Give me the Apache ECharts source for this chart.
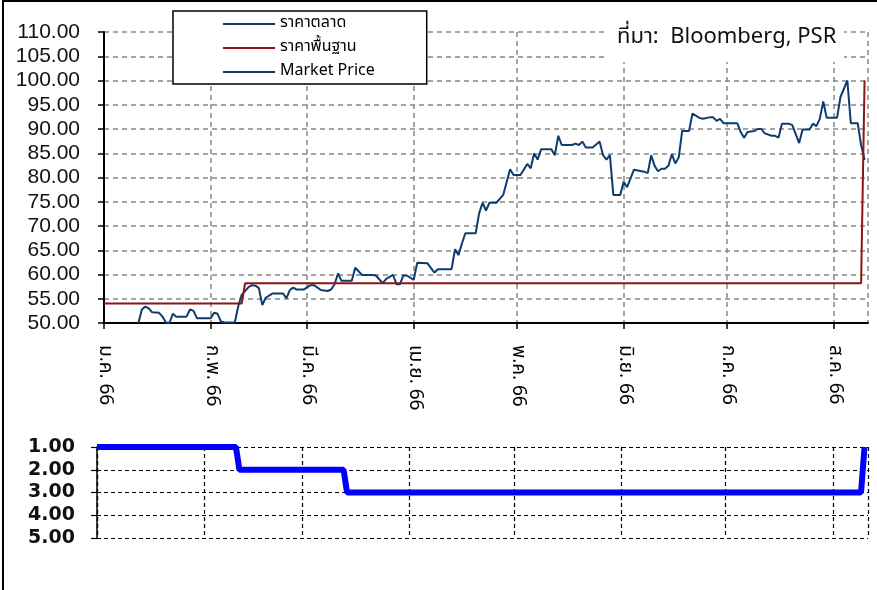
<!DOCTYPE html>
<html>
<head>
<meta charset="utf-8">
<script src="https://cdn.jsdelivr.net/npm/echarts@6/dist/echarts.min.js"></script>
<style>
  html, body { margin: 0; padding: 0; background: #fff; }
  #main { width: 877px; height: 590px; }
</style>
</head>
<body>
<div id="main"></div>
<script>
// time range of both panels
var xMin = '2023-01-01', xMax = '2023-08-11';
var monthLabels = ['ม.ค. 66', 'ก.พ. 66', 'มี.ค. 66', 'เม.ย. 66', 'พ.ค. 66', 'มิ.ย. 66', 'ก.ค. 66', 'ส.ค. 66'];
var seriesNames = ['ราคาตลาด', 'ราคาพื้นฐาน', 'Market Price'];
var sourceText = 'ที่มา:  Bloomberg, PSR';

// market price
var priceDates = [
  '2023-01-11','2023-01-12','2023-01-13','2023-01-14','2023-01-15','2023-01-17','2023-01-18','2023-01-19','2023-01-20','2023-01-21',
  '2023-01-22','2023-01-25','2023-01-26','2023-01-27','2023-01-28','2023-02-01','2023-02-02','2023-02-03','2023-02-04','2023-02-05',
  '2023-02-08','2023-02-09','2023-02-10','2023-02-12','2023-02-13','2023-02-14','2023-02-15','2023-02-16','2023-02-17','2023-02-19',
  '2023-02-22','2023-02-23','2023-02-24','2023-02-25','2023-02-26','2023-02-28','2023-03-02','2023-03-03','2023-03-05','2023-03-07',
  '2023-03-08','2023-03-09','2023-03-10','2023-03-11','2023-03-14','2023-03-15','2023-03-17','2023-03-20','2023-03-21','2023-03-23',
  '2023-03-24','2023-03-26','2023-03-27','2023-03-28','2023-03-29','2023-03-30','2023-04-01','2023-04-02','2023-04-05','2023-04-07',
  '2023-04-08','2023-04-12','2023-04-13','2023-04-14','2023-04-15','2023-04-16','2023-04-19','2023-04-20','2023-04-21','2023-04-22',
  '2023-04-23','2023-04-25','2023-04-27','2023-04-29','2023-04-30','2023-05-02','2023-05-04','2023-05-05','2023-05-06','2023-05-07',
  '2023-05-08','2023-05-11','2023-05-12','2023-05-13','2023-05-14','2023-05-17','2023-05-18','2023-05-19','2023-05-20','2023-05-21',
  '2023-05-23','2023-05-25','2023-05-26','2023-05-27','2023-05-28','2023-05-29','2023-05-31','2023-06-01','2023-06-02','2023-06-04',
  '2023-06-07','2023-06-08','2023-06-09','2023-06-10','2023-06-11','2023-06-12','2023-06-13','2023-06-14','2023-06-15','2023-06-16',
  '2023-06-17','2023-06-18','2023-06-20','2023-06-21','2023-06-23','2023-06-24','2023-06-26','2023-06-27','2023-06-28','2023-06-29',
  '2023-06-30','2023-07-04','2023-07-05','2023-07-06','2023-07-07','2023-07-09','2023-07-10','2023-07-11','2023-07-12','2023-07-14',
  '2023-07-15','2023-07-16','2023-07-17','2023-07-19','2023-07-20','2023-07-22','2023-07-23','2023-07-25','2023-07-26','2023-07-27',
  '2023-07-28','2023-07-29','2023-07-30','2023-08-02','2023-08-03','2023-08-05','2023-08-06','2023-08-08','2023-08-09','2023-08-10'
];
var priceValues = [
  50.0, 52.8, 53.4, 53.0, 52.2, 52.1, 51.3, 50.1, 50.0, 51.9,
  51.3, 51.3, 52.8, 52.5, 51.0, 51.0, 52.1, 51.9, 50.3, 50.1,
  50.1, 53.4, 55.8, 57.4, 57.8, 57.7, 57.2, 53.7, 55.2, 56.1,
  56.1, 55.1, 56.8, 57.3, 56.9, 56.9, 57.8, 57.8, 56.8, 56.6,
  56.9, 58.0, 60.2, 58.7, 58.7, 61.4, 59.9, 59.9, 59.8, 58.2,
  59.1, 59.9, 58.0, 58.0, 59.8, 59.8, 58.9, 62.4, 62.3, 60.4,
  61.1, 61.1, 65.2, 64.0, 66.4, 68.5, 68.5, 72.6, 74.8, 73.2,
  74.8, 74.8, 76.4, 81.7, 80.5, 80.5, 82.8, 81.9, 85.0, 83.7,
  85.8, 85.8, 84.6, 88.6, 86.7, 86.7, 87.0, 86.7, 87.4, 86.2,
  86.2, 87.4, 84.6, 83.7, 84.6, 76.4, 76.4, 79.1, 78.0, 81.6,
  81.2, 80.9, 84.6, 82.4, 81.3, 81.8, 81.8, 82.4, 84.8, 82.9,
  84.1, 89.6, 89.6, 93.2, 92.3, 92.1, 92.4, 92.4, 91.7, 92.1,
  91.2, 91.2, 89.4, 88.2, 89.4, 89.6, 90.0, 90.0, 89.1, 88.6,
  88.6, 88.2, 91.1, 91.1, 90.8, 87.1, 89.9, 89.9, 91.1, 90.6,
  92.1, 95.7, 92.3, 92.3, 96.6, 100.0, 91.2, 91.2, 86.7, 83.6
];

// base (fundamental) price
var baseDates = ['2023-01-01', '2023-02-10', '2023-02-11', '2023-08-09', '2023-08-10'];
var baseValues = [54.0, 54.0, 58.2, 58.2, 100.0];

// rank in lower panel
var rankDates = ['2023-01-01', '2023-02-10', '2023-02-11', '2023-03-13', '2023-03-14', '2023-08-09', '2023-08-10'];
var rankValues = [1, 1, 2, 2, 3, 3, 1];

function pairs(dates, values) {
  return dates.map(function (d, i) { return [d, values[i]]; });
}

var thaiFont = 'Tahoma, "Noto Sans Thai", "Noto Sans", "DejaVu Sans", sans-serif';
var numFont = '"Liberation Sans", Arial, sans-serif';
var blue = '#0D3D6E', red = '#8E1414';

var myChart = echarts.init(document.getElementById('main'));

var option = {
  animation: false,
  backgroundColor: '#fff',
  textStyle: { fontFamily: thaiFont },
  grid: [
    { left: 104, top: 32, width: 764, height: 291 },
    { left: 97, top: 447, width: 771, height: 91 }
  ],
  legend: {
    data: seriesNames,
    orient: 'vertical',
    left: 173, top: 11,
    padding: [5, 52, 4, 50],
    backgroundColor: '#fff',
    borderColor: '#000', borderWidth: 1.5,
    icon: 'rect',
    itemWidth: 52, itemHeight: 2, itemGap: 8,
    textStyle: { fontSize: 16, color: '#000', fontFamily: thaiFont }
  },
  xAxis: [{
    type: 'time', gridIndex: 0, min: xMin, max: xMax,
    axisLine: { lineStyle: { color: '#000', width: 2 } },
    axisTick: { length: 6, lineStyle: { color: '#000', width: 1.5 } },
    axisLabel: {
      rotate: -90, margin: 22, fontSize: 19, color: '#000', fontFamily: thaiFont,
      formatter: function (v) { return monthLabels[new Date(v).getMonth()]; }
    },
    splitLine: { show: true, lineStyle: { color: '#888', type: [5, 4], width: 1.5 } }
  }, {
    type: 'time', gridIndex: 1, min: xMin, max: xMax,
    axisLine: { show: false }, axisTick: { show: false }, axisLabel: { show: false },
    splitLine: { show: true, lineStyle: { color: '#000', type: [4, 3], width: 1.2 } }
  }],
  yAxis: [{
    type: 'value', gridIndex: 0, min: 50, max: 110, interval: 5,
    axisLine: { show: true, lineStyle: { color: '#000', width: 2 } },
    axisTick: { show: true, length: 6, lineStyle: { color: '#000', width: 1.5 } },
    axisLabel: { fontSize: 21, color: '#111', margin: 24, fontFamily: numFont,
      formatter: function (v) { return v.toFixed(2); } },
    splitLine: { lineStyle: { color: '#888', type: [5, 4], width: 1.5 } }
  }, {
    type: 'value', gridIndex: 1, min: 1, max: 5, interval: 1, inverse: true,
    axisLine: { show: true, lineStyle: { color: '#000', width: 1.5 } },
    axisTick: { show: true, length: 6, lineStyle: { color: '#000', width: 1.2 } },
    axisLabel: { fontSize: 19, fontWeight: 'bold', color: '#111', margin: 22, fontFamily: '"DejaVu Sans", Verdana, sans-serif',
      formatter: function (v) { return v.toFixed(2); } },
    splitLine: { lineStyle: { color: '#000', type: [4, 3], width: 1.2 } }
  }],
  series: [{
    name: seriesNames[0], type: 'line', xAxisIndex: 0, yAxisIndex: 0,
    data: pairs(priceDates, priceValues),
    symbol: 'none', color: blue, lineStyle: { color: blue, width: 2 }
  }, {
    name: seriesNames[1], type: 'line', xAxisIndex: 0, yAxisIndex: 0,
    data: pairs(baseDates, baseValues),
    symbol: 'none', color: red, lineStyle: { color: red, width: 2 }
  }, {
    name: seriesNames[2], type: 'line', xAxisIndex: 0, yAxisIndex: 0,
    data: [],
    symbol: 'none', color: blue, lineStyle: { color: blue, width: 2 }
  }, {
    name: 'rank', type: 'line', xAxisIndex: 1, yAxisIndex: 1,
    data: pairs(rankDates, rankValues),
    symbol: 'none', color: '#0000FF', lineStyle: { color: '#0000FF', width: 6 }
  }],
  graphic: [
    { type: 'rect', shape: { x: 608, y: 16, width: 236, height: 46 }, style: { fill: '#fff' }, z: 5, silent: true },
    { type: 'text', x: 617, y: 39, z: 6, silent: true,
      style: { text: sourceText, fontSize: 22, fontFamily: thaiFont, fill: '#111', verticalAlign: 'middle' } },
    { type: 'rect', shape: { x: 3, y: 1, width: 900, height: 620 }, style: { fill: 'none', stroke: '#000', lineWidth: 2 }, z: 100, silent: true }
  ]
};

myChart.setOption(option);
</script>
</body>
</html>
